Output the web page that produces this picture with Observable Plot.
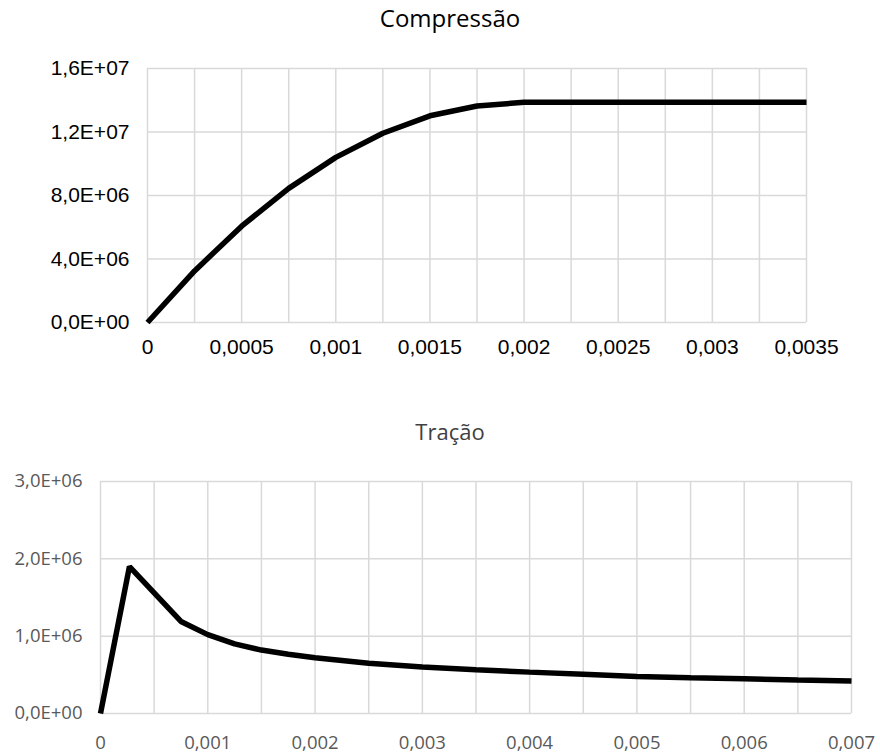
<!DOCTYPE html>
<html>
<head>
<meta charset="utf-8">
<script src="https://cdn.jsdelivr.net/npm/d3@7"></script>
<script src="https://cdn.jsdelivr.net/npm/@observablehq/plot@0.6"></script>
<style>
  html, body { margin: 0; padding: 0; background: #fff; }
  #page { position: relative; width: 880px; height: 756px; overflow: hidden; }
  .title { position: absolute; left: 0; width: 900px; text-align: center; font-family: "Open Sans", sans-serif; white-space: nowrap; }
  .chart { position: absolute; left: 0; }
</style>
</head>
<body>
<div id="page">
  <div class="title" style="top:6px; font-size:24px; line-height:24px; color:#000;">Compressão</div>
  <div id="c1" class="chart" style="top:40px;"></div>
  <div class="title" style="top:420px; font-size:22px; line-height:22px; color:#404040;">Tração</div>
  <div id="c2" class="chart" style="top:460px;"></div>
</div>
<script>
// ---- Data: Compressão ----
const compStrain = [0, 0.00025, 0.0005, 0.00075, 0.001, 0.00125, 0.0015, 0.00175, 0.002, 0.0025, 0.003, 0.0035];
const compStress = [0, 3.25e6, 6.07e6, 8.45e6, 1.040e7, 1.192e7, 1.302e7, 1.364e7, 1.387e7, 1.387e7, 1.387e7, 1.387e7];
const compXTicks = [0, 0.0005, 0.001, 0.0015, 0.002, 0.0025, 0.003, 0.0035];
const compXGrid = [0, 0.00025, 0.0005, 0.00075, 0.001, 0.00125, 0.0015, 0.00175, 0.002, 0.00225, 0.0025, 0.00275, 0.003, 0.00325, 0.0035];
const compYTicks = [0, 4e6, 8e6, 1.2e7, 1.6e7];

// ---- Data: Tração ----
const tracStrain = [0, 0.00027, 0.00075, 0.001, 0.00125, 0.0015, 0.00175, 0.002, 0.0025, 0.003, 0.0035, 0.004, 0.0045, 0.005, 0.0055, 0.006, 0.0065, 0.007];
const tracStress = [0, 1.9e6, 1.19e6, 1.02e6, 0.90e6, 0.82e6, 0.765e6, 0.72e6, 0.65e6, 0.60e6, 0.565e6, 0.535e6, 0.508e6, 0.48e6, 0.462e6, 0.448e6, 0.432e6, 0.419e6];
const tracXTicks = [0, 0.001, 0.002, 0.003, 0.004, 0.005, 0.006, 0.007];
const tracXGrid = [0, 0.0005, 0.001, 0.0015, 0.002, 0.0025, 0.003, 0.0035, 0.004, 0.0045, 0.005, 0.0055, 0.006, 0.0065, 0.007];
const tracYTicks = [0, 1e6, 2e6, 3e6];

const fmtX = v => String(v).replace(".", ",");
const fmtY = v => {
  const [m, e] = v.toExponential(1).split("e");
  const n = +e;
  return m.replace(".", ",") + "E" + (n < 0 ? "-" : "+") + String(Math.abs(n)).padStart(2, "0");
};

const compData = compStrain.map((x, i) => ({x, y: compStress[i]}));
const tracData = tracStrain.map((x, i) => ({x, y: tracStress[i]}));

const grid = "#d9d9d9";

const p1 = Plot.plot({
  width: 880,
  height: 330,
  marginTop: 28,
  marginBottom: 48,
  marginLeft: 147,
  marginRight: 74,
  x: {domain: [0, 0.0035]},
  y: {domain: [0, 1.6e7]},
  style: {background: "#fff", color: "#000", fontFamily: "'Liberation Sans', Arial, sans-serif"},
  marks: [
    Plot.gridX(compXGrid, {stroke: grid, strokeOpacity: 1, strokeWidth: 1.5}),
    Plot.gridY(compYTicks, {stroke: grid, strokeOpacity: 1, strokeWidth: 1.5}),
    Plot.axisX(compXTicks, {tickSize: 0, tickPadding: 17, tickFormat: fmtX, fontSize: 21, fill: "#000", label: null}),
    Plot.axisY(compYTicks, {tickSize: 0, tickPadding: 18, tickFormat: fmtY, fontSize: 21, fill: "#000", label: null}),
    Plot.line(compData, {x: "x", y: "y", stroke: "#000", strokeWidth: 5.5, strokeLinejoin: "round", strokeLinecap: "butt"})
  ]
});
document.getElementById("c1").appendChild(p1);

const p2 = Plot.plot({
  width: 880,
  height: 296,
  marginTop: 21,
  marginBottom: 43,
  marginLeft: 100,
  marginRight: 29,
  x: {domain: [0, 0.007]},
  y: {domain: [0, 3e6]},
  style: {background: "#fff", color: "#595959", fontFamily: "'Open Sans', sans-serif"},
  marks: [
    Plot.gridX(tracXGrid, {stroke: grid, strokeOpacity: 1, strokeWidth: 1.5}),
    Plot.gridY(tracYTicks, {stroke: grid, strokeOpacity: 1, strokeWidth: 1.5}),
    Plot.axisX(tracXTicks, {tickSize: 0, tickPadding: 22, tickFormat: fmtX, fontSize: 18.5, fill: "#595959", label: null}),
    Plot.axisY(tracYTicks, {tickSize: 0, tickPadding: 18, tickFormat: fmtY, fontSize: 18.5, fill: "#595959", label: null}),
    Plot.line(tracData, {x: "x", y: "y", stroke: "#000", strokeWidth: 5.5, strokeLinejoin: "miter", strokeLinecap: "butt"})
  ]
});
document.getElementById("c2").appendChild(p2);
</script>
</body>
</html>
